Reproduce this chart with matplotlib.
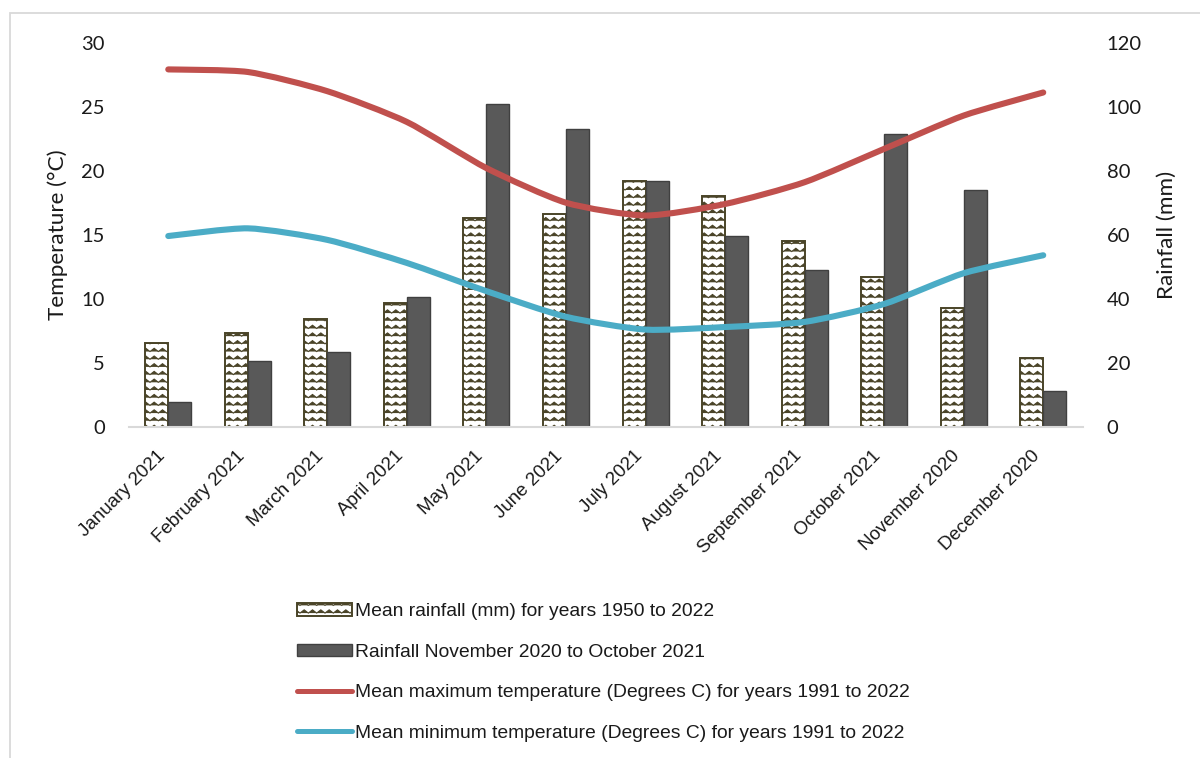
import warnings
import numpy as np
import matplotlib
matplotlib.use("Agg")
import matplotlib.pyplot as plt
import matplotlib.hatch as mhatch
from matplotlib.path import Path
from matplotlib.patches import PathPatch, Rectangle
from matplotlib.lines import Line2D
from matplotlib.transforms import ScaledTranslation

warnings.filterwarnings("ignore")

# ---------------------------------------------------------------- data
months = ["January 2021", "February 2021", "March 2021", "April 2021",
          "May 2021", "June 2021", "July 2021", "August 2021",
          "September 2021", "October 2021", "November 2020", "December 2020"]

mean_rain = [26.3, 29.2, 33.6, 38.6, 65.3, 66.4, 76.9, 72.2, 57.9, 46.9, 37.2, 21.4]
rain_2021 = [7.9, 20.6, 23.3, 40.5, 100.7, 93.1, 76.7, 59.7, 48.9, 91.5, 74.1, 11.1]
tmax = [27.9, 27.7, 26.2, 23.8, 20.2, 17.5, 16.5, 17.4, 19.1, 21.7, 24.3, 26.1]
tmin = [14.9, 15.5, 14.6, 12.8, 10.6, 8.6, 7.6, 7.8, 8.2, 9.6, 12.0, 13.4]

temp_ticks = [0, 5, 10, 15, 20, 25, 30]
rain_ticks = [0, 20, 40, 60, 80, 100, 120]

labels = ["Mean rainfall (mm) for years 1950 to 2022",
          "Rainfall November 2020 to October 2021",
          "Mean maximum temperature (Degrees C) for years 1991 to 2022",
          "Mean minimum temperature (Degrees C) for years 1991 to 2022"]

RED = "#C0504D"
BLUE = "#4BACC6"
DARK = "#595959"
OLIVE = "#4A4428"
GRID = "#D9D9D9"
TXT = "#1a1a1a"


# ---------------------------------------------------------------- zig-zag fill pattern
class ZigZagHatch(mhatch.HatchPatternBase):
    """Rows of small chevrons, selected with the 'z' hatch character."""

    def __init__(self, hatch, density):
        self.rows = int(round(hatch.count("z") * density * 13 / 6))
        self.cols = 12
        self.num_vertices = self.rows * (2 * self.cols + 1)

    def set_vertices_and_codes(self, vertices, codes):
        if self.rows == 0:
            return
        n = 2 * self.cols + 1
        xs = np.linspace(0.0, 1.0, n)
        amp = 0.42 / self.rows
        offs = np.where(np.arange(n) % 2 == 0, 0.0, amp)
        for i in range(self.rows):
            y0 = (i + 0.3) / self.rows
            s = slice(i * n, (i + 1) * n)
            vertices[s, 0] = xs
            vertices[s, 1] = y0 + offs
            codes[s] = Path.LINETO
            codes[i * n] = Path.MOVETO


mhatch._hatch_types.append(ZigZagHatch)
plt.rcParams["hatch.linewidth"] = 0.8


def smooth_path(xs, ys, k=0.11):
    """Cubic Bezier path through the points with gently rounded joints."""
    p = np.column_stack([xs, ys]).astype(float)
    ext = np.vstack([p[0], p, p[-1]])
    verts = [p[0]]
    codes = [Path.MOVETO]
    for i in range(len(p) - 1):
        p0, p1, p2, p3 = ext[i], ext[i + 1], ext[i + 2], ext[i + 3]
        c1 = p1 + (p2 - p0) * k
        c2 = p2 - (p3 - p1) * k
        verts += [c1, c2, p2]
        codes += [Path.CURVE4] * 3
    return Path(np.array(verts), codes)


# ---------------------------------------------------------------- figure
W, H = 1200, 758
fig = plt.figure(figsize=(W / 100, H / 100), dpi=100)
fig.patch.set_facecolor("white")

# chart-area frame
fig.patches.append(Rectangle((10 / W, -0.05), 1.2, 1.05 - 13 / H,
                             transform=fig.transFigure, fill=False,
                             edgecolor=GRID, linewidth=1.3))

left, right, top, bottom = 128.5, 1083, 42.5, 427
ax = fig.add_axes([left / W, 1 - bottom / H, (right - left) / W, (bottom - top) / H])
ax2 = ax.twinx()

x = np.arange(len(months))
bw = 0.289

# rainfall bars (drawn on the base axes, so the temperature lines sit on top)
b1 = ax.bar(x - bw / 2, mean_rain, bw, facecolor="white", edgecolor=OLIVE,
            linewidth=1.4, hatch="z", label=labels[0], zorder=2)
b2 = ax.bar(x + bw / 2, rain_2021, bw, facecolor=DARK, edgecolor="#404040",
            linewidth=1.0, label=labels[1], zorder=2)

ax.set_xlim(-0.5, len(months) - 0.5)
ax.set_ylim(rain_ticks[0], rain_ticks[-1])
ax.set_yticks(rain_ticks)
ax.yaxis.tick_right()
ax.yaxis.set_label_position("right")

# temperature lines
for vals, col in ((tmax, RED), (tmin, BLUE)):
    ax2.add_patch(PathPatch(smooth_path(x, vals), fill=False, edgecolor=col,
                            linewidth=4.4, capstyle="round", joinstyle="round",
                            zorder=3))
ax2.set_ylim(temp_ticks[0], temp_ticks[-1])
ax2.set_yticks(temp_ticks)
ax2.yaxis.tick_left()
ax2.yaxis.set_label_position("left")

for a in (ax, ax2):
    for s in ("top", "left", "right"):
        a.spines[s].set_visible(False)
    a.spines["bottom"].set_color(GRID)
    a.spines["bottom"].set_linewidth(1.5)
    a.tick_params(axis="y", length=0, pad=17)
    a.tick_params(axis="x", length=0)
    for t in a.get_yticklabels():
        t.set_fontfamily("Lato")
        t.set_fontsize(14.5)
        t.set_color(TXT)
ax2.spines["bottom"].set_visible(False)

ax.set_xticks(x)
ax.set_xticklabels(months, rotation=45, ha="right", va="center",
                   rotation_mode="anchor", family="Liberation Sans",
                   fontsize=13.5, color=TXT)
ax.tick_params(axis="x", pad=19)
shift = ScaledTranslation(-6 / 100, 0, fig.dpi_scale_trans)
for t in ax.get_xticklabels():
    t.set_transform(t.get_transform() + shift)

ax2.set_ylabel("Temperature (°C)", family="Lato", fontsize=16.2, color=TXT,
               va="center")
ax2.yaxis.set_label_coords((58 - left) / (right - left), 0.5)
ax.set_ylabel("Rainfall (mm)", family="Lato", fontsize=16.2, color=TXT,
              va="center", rotation=90)
ax.yaxis.set_label_coords((1167 - left) / (right - left), 0.5)

handles = [b1, b2,
           Line2D([], [], color=RED, linewidth=3.6, solid_capstyle="round"),
           Line2D([], [], color=BLUE, linewidth=3.6, solid_capstyle="round")]
fig.legend(handles, labels, loc="upper left",
           bbox_to_anchor=(297 / W, 1 - 603 / H), frameon=False,
           prop=dict(family="Liberation Sans", size=13.9),
           labelcolor=TXT, handlelength=2.87, handleheight=0.65,
           handletextpad=0.13, labelspacing=1.21, borderpad=0,
           borderaxespad=0)

fig.savefig("out.png", dpi=100, facecolor="white")
